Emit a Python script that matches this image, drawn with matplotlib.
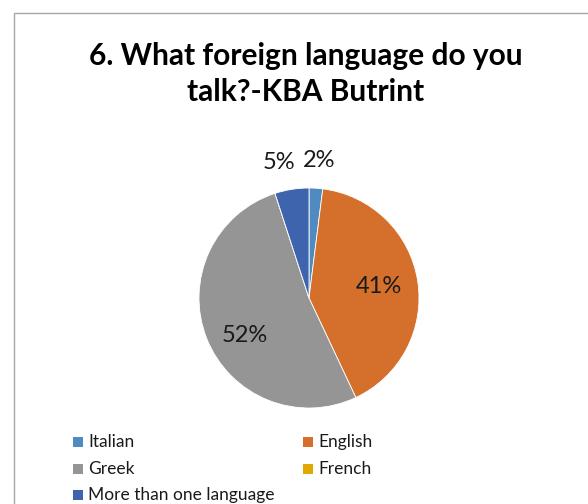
import matplotlib
matplotlib.use("Agg")
import matplotlib.pyplot as plt
from matplotlib.patches import Rectangle
import numpy as np

plt.rcParams['font.family'] = ['Lato', 'DejaVu Sans']

# ----- data -----
languages = ["Italian", "English", "Greek", "French", "More than one language"]
shares = [2, 41, 52, 0, 5]
colors = ["#4F8BC1", "#D46F2C", "#959595", "#E2A800", "#3D64AD"]
title = "6. What foreign language do you\ntalk?-KBA Butrint"

# % label placement: distance from centre (fraction of radius) + pixel nudge
label_dist = [1.25, 0.64, 0.68, None, 1.25]
label_nudge = [(1, 0), (0, 0), (5, -10), (0, 0), (-8, 0)]

W, H = 588, 504
fig = plt.figure(figsize=(W / 100, H / 100), dpi=100)

# chart frame (cut off on the right and bottom)
fig.patches.append(Rectangle((14 / W, -0.1), 1.2, 1 - 13 / H + 0.1,
                             transform=fig.transFigure, fill=False,
                             edgecolor="#A6A6A6", linewidth=1.0))

fig.text(306 / W, 1 - 74 / H, title, ha="center", va="center",
         fontsize=21.5, fontweight="bold", linespacing=1.32)

# pie axes: centre (309, 298) px, radius 110 px
cx, cy, r = 309, 298, 110
ax = fig.add_axes([(cx - r) / W, (H - cy - r) / H, 2 * r / W, 2 * r / H])
wedges, _ = ax.pie(shares, colors=colors, startangle=90, counterclock=False,
                   radius=1, wedgeprops=dict(edgecolor="white", linewidth=0.6))
ax.set_xlim(-1, 1)
ax.set_ylim(-1, 1)
ax.set_aspect("equal")
ax.axis("off")

for w, v, d, off in zip(wedges, shares, label_dist, label_nudge):
    if d is None or v == 0:
        continue
    ang = np.deg2rad((w.theta1 + w.theta2) / 2)
    ax.annotate(f"{v}%", (d * np.cos(ang), d * np.sin(ang)), xytext=off,
                textcoords="offset pixels", ha="center", va="center",
                fontsize=17, color="#1a1a1a", annotation_clip=False)

# legend, two columns filled row by row
col_x = [73, 303]
row_y = [442, 469, 495]
sq = 10
for i, (name, c) in enumerate(zip(languages, colors)):
    x = col_x[i % 2]
    y = row_y[i // 2]
    fig.patches.append(Rectangle((x / W, (H - y - sq / 2) / H), sq / W, sq / H,
                                 transform=fig.transFigure, facecolor=c,
                                 edgecolor="none"))
    fig.text((x + sq + 5) / W, 1 - y / H, name, ha="left", va="center",
             fontsize=12.5, color="#1a1a1a")

fig.savefig("out.png", dpi=100)
